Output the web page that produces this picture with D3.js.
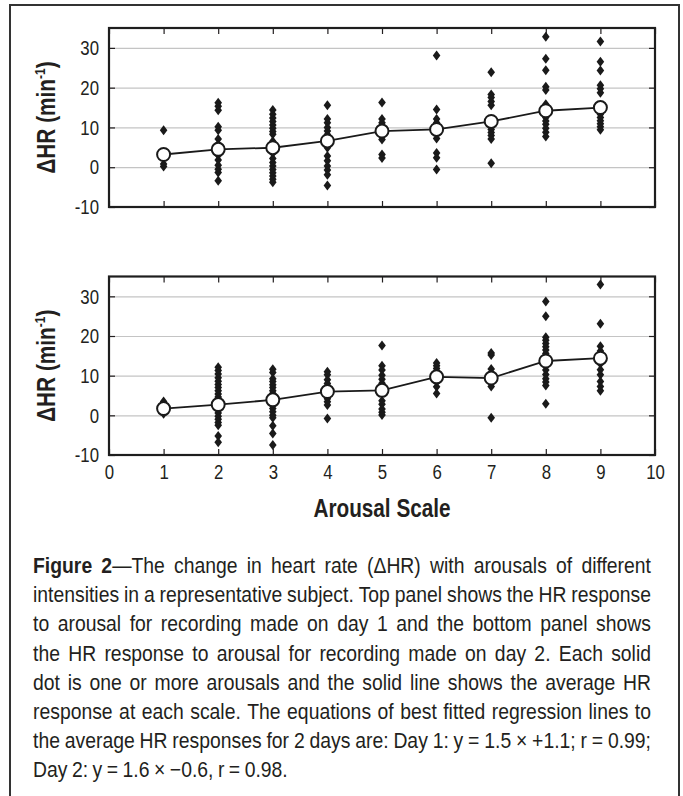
<!DOCTYPE html>
<html lang="en">
<head>
<meta charset="utf-8">
<title>Figure 2 - change in heart rate with arousal</title>
<script src="https://d3js.org/d3.v7.min.js"></script>
<style>
  body { margin: 0; background: #fff; }
  svg { display: block; }
  text { font-family: "Liberation Sans", Arial, sans-serif; fill: #231f20; }
</style>
</head>
<body>
<svg id="chart" width="683" height="796"></svg>
<script>
// arousal scale categories
var scaleValues = [1, 2, 3, 4, 5, 6, 7, 8, 9];

// day 1 (top panel): every arousal, grouped by scale
var day1Points = [
  [9.3, 0.8, 0.2],
  [16.2, 15.3, 14.3, 10.2, 9.3, 7.1, 5.8, 3.0, 1.8, 0.5, -0.5, -1.3, -3.4],
  [14.4, 13.3, 12.4, 11.5, 10.6, 9.8, 9.0, 8.3, 6.5, 3.5, 2.2, 1.2, 0.3, -0.6, -1.4, -2.2, -3.0, -3.8],
  [15.6, 12.1, 11.2, 10.0, 9.1, 8.2, 4.9, 2.8, 1.6, 0.3, -0.7, -1.9, -4.6],
  [16.3, 12.1, 11.2, 9.5, 8.0, 7.0, 3.2, 2.3],
  [28.1, 14.5, 12.1, 11.2, 8.6, 7.2, 3.6, 2.4, -0.6],
  [23.9, 18.3, 17.5, 16.5, 15.6, 11.0, 9.5, 8.7, 8.0, 7.1, 1.0],
  [32.8, 27.3, 24.4, 20.2, 19.4, 15.8, 14.5, 12.5, 11.6, 10.8, 9.8, 8.8, 7.7],
  [31.6, 26.5, 24.3, 20.6, 19.7, 18.7, 15.5, 13.3, 12.5, 11.7, 10.9, 10.2, 9.4]
];
var day1Means = [3.2, 4.5, 4.9, 6.6, 9.1, 9.5, 11.5, 14.2, 15.0];

// day 2 (bottom panel)
var day2Points = [
  [3.5, 2.8, 0.4],
  [12.1, 11.3, 10.4, 9.5, 8.6, 7.8, 7.0, 6.2, 5.4, 4.6, 3.8, 3.0, 2.2, 1.4, 0.6, -0.2, -1.0, -1.8, -2.5, -5.2, -6.8],
  [11.6, 10.8, 9.2, 8.5, 7.7, 7.0, 6.2, 5.5, 4.6, 3.4, 2.6, 1.7, 0.9, 0.0, -0.6, -2.6, -4.6, -7.5],
  [11.0, 10.2, 9.0, 8.0, 7.0, 5.6, 4.2, 3.4, 2.6, -0.8],
  [17.6, 12.5, 11.4, 10.1, 9.1, 8.1, 6.4, 3.7, 2.8, 1.6, 0.8, 0.1],
  [13.2, 12.5, 11.8, 11.0, 10.3, 9.5, 8.4, 7.2, 5.5],
  [15.7, 15.2, 11.7, 10.6, 9.3, 7.3, -0.6],
  [28.7, 25.0, 19.7, 18.9, 18.1, 17.3, 16.5, 15.6, 14.5, 13.2, 12.5, 11.4, 10.3, 9.2, 8.4, 7.5, 2.9],
  [33.0, 23.1, 17.4, 16.2, 14.5, 13.0, 11.5, 10.2, 8.5, 7.3, 6.2]
];
var day2Means = [1.7, 2.7, 3.9, 6.0, 6.3, 9.7, 9.4, 13.7, 14.4];

var xTickValues = [0, 1, 2, 3, 4, 5, 6, 7, 8, 9, 10];
var yTickValues = [-10, 0, 10, 20, 30];
var gridValues = [0, 10, 20, 30];

var captionLines = [
  "**Figure** **2**—The change in heart rate (ΔHR) with arousals of different",
  "intensities in a representative subject. Top panel shows the HR response",
  "to arousal for recording made on day 1 and the bottom panel shows",
  "the HR response to arousal for recording made on day 2. Each solid",
  "dot is one or more arousals and the solid line shows the average HR",
  "response at each scale. The equations of best fitted regression lines to",
  "the average HR responses for 2 days are: Day 1: y = 1.5 × +1.1; r = 0.99;",
  "Day 2: y = 1.6 × −0.6, r = 0.98."
];

var svg = d3.select("#chart");
var plotLeft = 109, plotRight = 655;
var ink = "#231f20";
var squeeze = 0.8;   // the original type is a condensed face

// outer frame (open at the bottom)
svg.append("path")
  .attr("d", "M10,800 L10,5 L679,5 L679,800")
  .attr("fill", "none")
  .attr("stroke", "#333")
  .attr("stroke-width", 2);

var xScale = d3.scaleLinear().domain([0, 10]).range([plotLeft, plotRight]);

var panels = [
  {top: 28, bottom: 207, points: day1Points, means: day1Means, labels: false},
  {top: 276.5, bottom: 455, points: day2Points, means: day2Means, labels: true}
];

var diamond = "M0,-5 L3.8,0 L0,5 L-3.8,0 Z";

function styleTicks(a) {
  a.select(".domain").remove();
  a.selectAll("line").attr("stroke", ink).attr("stroke-width", 1.2);
}

panels.forEach(function(p) {
  var yScale = d3.scaleLinear().domain([-10, 35]).range([p.bottom, p.top]);
  var g = svg.append("g");

  // grid lines
  g.append("g")
    .attr("transform", "translate(" + plotLeft + ",0)")
    .call(d3.axisLeft(yScale).tickValues(gridValues).tickSize(-(plotRight - plotLeft)).tickFormat(""))
    .call(function(a) { a.select(".domain").remove(); a.selectAll("line").attr("stroke", "#c4c4c4").attr("stroke-width", 1.2); });

  // axes with inside ticks
  g.append("g")
    .attr("transform", "translate(" + plotLeft + ",0)")
    .call(d3.axisLeft(yScale).tickValues(yTickValues).tickSize(-6).tickPadding(10 / squeeze)
      .tickFormat(function(d) { return String(d); }))
    .call(styleTicks)
    .call(function(a) {
      a.selectAll("text").style("font-size", "21px").attr("transform", "scale(" + squeeze + ",1)");
    });

  g.append("g")
    .attr("transform", "translate(" + plotRight + ",0)")
    .call(d3.axisRight(yScale).tickValues(yTickValues).tickSize(-6).tickFormat(""))
    .call(styleTicks);

  g.append("g")
    .attr("transform", "translate(0," + p.top + ")")
    .call(d3.axisTop(xScale).tickValues(xTickValues).tickSize(-6).tickFormat(""))
    .call(styleTicks);

  var bottomAxis = d3.axisBottom(xScale).tickValues(xTickValues).tickSize(-6).tickPadding(9);
  if (!p.labels) bottomAxis.tickFormat("");
  g.append("g")
    .attr("transform", "translate(0," + p.bottom + ")")
    .call(bottomAxis)
    .call(styleTicks)
    .call(function(a) {
      a.selectAll("text").style("font-size", "21px").attr("transform", "scale(" + squeeze + ",1)");
    });

  // plot border
  g.append("rect")
    .attr("x", plotLeft).attr("y", p.top)
    .attr("width", plotRight - plotLeft).attr("height", p.bottom - p.top)
    .attr("fill", "none").attr("stroke", "#1e1e1e").attr("stroke-width", 2.2);

  // every arousal as a diamond
  var flat = [];
  p.points.forEach(function(vals, i) {
    vals.forEach(function(v) { flat.push({x: scaleValues[i], y: v}); });
  });
  g.selectAll(".pt").data(flat).enter().append("path")
    .attr("class", "pt")
    .attr("d", diamond)
    .attr("transform", function(d) { return "translate(" + xScale(d.x) + "," + yScale(d.y) + ")"; })
    .attr("fill", "#1a1a1a");

  // average line
  var line = d3.line()
    .x(function(d, i) { return xScale(scaleValues[i]); })
    .y(function(d) { return yScale(d); });
  g.append("path")
    .datum(p.means)
    .attr("d", line)
    .attr("fill", "none")
    .attr("stroke", "#1a1a1a")
    .attr("stroke-width", 1.8);

  g.selectAll(".mean").data(p.means).enter().append("circle")
    .attr("class", "mean")
    .attr("cx", function(d, i) { return xScale(scaleValues[i]); })
    .attr("cy", function(d) { return yScale(d); })
    .attr("r", 6.5)
    .attr("fill", "#fff")
    .attr("stroke", "#1a1a1a")
    .attr("stroke-width", 2);

  // y axis title
  var t = svg.append("text")
    .attr("transform", "translate(55," + ((p.top + p.bottom) / 2) + ") rotate(-90) scale(" + squeeze + ",1)")
    .attr("text-anchor", "middle")
    .style("font-size", "26px")
    .style("font-weight", "bold");
  t.append("tspan").text("ΔHR (min");
  t.append("tspan").attr("dy", -10).style("font-size", "15px").text("-1");
  t.append("tspan").attr("dy", 10).text(")");
});

// x axis title
svg.append("text")
  .attr("transform", "translate(" + ((plotLeft + plotRight) / 2) + ",517) scale(0.83,1)")
  .attr("text-anchor", "middle")
  .style("font-size", "25px")
  .style("font-weight", "bold")
  .text("Arousal Scale");

// caption, justified word by word
var capLeft = 33, capRight = 651, capTop = 573, capStep = 29.2, capSqueeze = 0.88;
captionLines.forEach(function(lineText, li) {
  var words = lineText.split(" ");
  var y = capTop + li * capStep;
  var nodes = words.map(function(w) {
    var txt = svg.append("text").style("font-size", "22px");
    w.split(/(\*\*[^*]+\*\*)/).filter(function(s) { return s.length; }).forEach(function(s) {
      if (s.indexOf("**") === 0) txt.append("tspan").style("font-weight", "bold").text(s.slice(2, -2));
      else txt.append("tspan").text(s);
    });
    return txt;
  });
  var widths = nodes.map(function(n) { return n.node().getComputedTextLength() * capSqueeze; });
  var total = d3.sum(widths);
  var last = li === captionLines.length - 1;
  var gap = last ? 4.5 : (capRight - capLeft - total) / (words.length - 1);
  var x = capLeft;
  nodes.forEach(function(n, i) {
    n.attr("transform", "translate(" + x + "," + y + ") scale(" + capSqueeze + ",1)");
    x += widths[i] + gap;
  });
});
</script>
</body>
</html>
